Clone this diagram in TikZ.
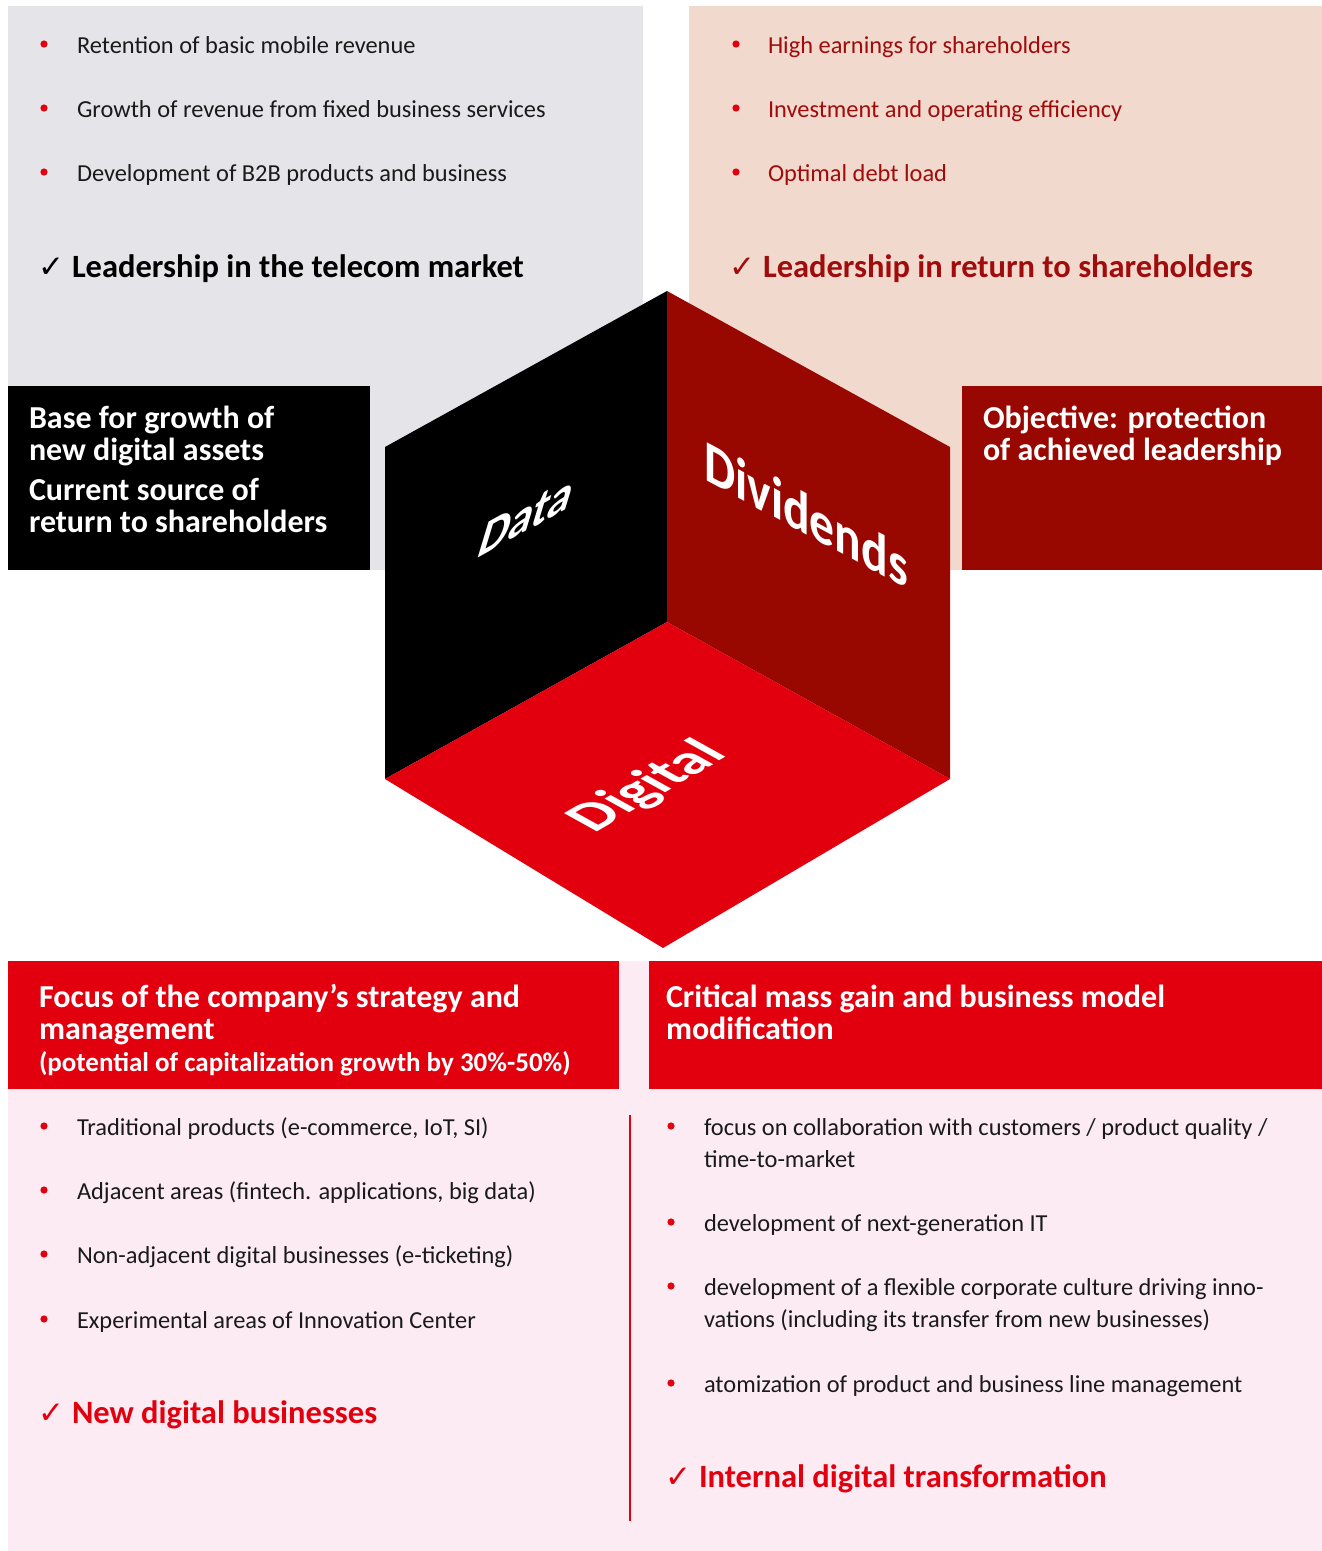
\documentclass[tikz,border=0pt]{standalone}
\usepackage{fontspec}
\setmainfont{Carlito}
\newfontfamily\dejavu{DejaVu Sans}
\definecolor{panelgray}{HTML}{E5E4E9}
\definecolor{panelpeach}{HTML}{F2D9CE}
\definecolor{darkred}{HTML}{990800}
\definecolor{brightred}{HTML}{E2000F}
\definecolor{pinkbg}{HTML}{FCEBF2}
\definecolor{txtred}{HTML}{A00C0C}
\definecolor{txtdark}{HTML}{1A1A1A}
\begin{document}
\begin{tikzpicture}[x=1pt,y=-1pt,
  every node/.style={inner sep=0pt,outer sep=0pt},
  body/.style={anchor=base west,font=\fontsize{24.4}{28}\selectfont,text=txtdark},
  bodyred/.style={body,text=txtred},
  chk/.style={anchor=base west,font=\dejavu\fontsize{31}{31}\selectfont},
  chktext/.style={anchor=base west,font=\bfseries\fontsize{32.5}{36}\selectfont},
  boxtext/.style={anchor=base west,font=\bfseries\fontsize{32}{34}\selectfont,text=white},
  subtext/.style={anchor=base west,font=\bfseries\fontsize{27}{30}\selectfont,text=white},
  cubetext/.style={text=white},
  dot/.style={fill=brightred}]
\useasboundingbox (0,0) rectangle (1322,1551);
\fill[white] (0,0) rectangle (1322,1551);

% ---------- panels ----------
\fill[panelgray] (8,6) rectangle (643,570);
\fill[panelpeach] (689,6) rectangle (1322,570);
\fill[black] (8,386) rectangle (370,570);
\fill[darkred] (962,386) rectangle (1322,570);
\fill[pinkbg] (8,961) rectangle (1322,1551);
\fill[brightred] (8,961) rectangle (619,1089);
\fill[brightred] (649,961) rectangle (1322,1089);

% ---------- cube ----------
\coordinate (ctop) at (667,291);
\coordinate (cul) at (385,447);
\coordinate (cll) at (385,779);
\coordinate (cbot) at (663,948);
\coordinate (clr) at (950,779);
\coordinate (cur) at (950,447);
\coordinate (cmid) at (667,622);
\fill[black] (cul) -- (ctop) -- (cmid) -- (cll) -- cycle;
\fill[darkred] (ctop) -- (cur) -- (clr) -- (cmid) -- cycle;
\fill[brightred] (cmid) -- (clr) -- (cbot) -- (cll) -- cycle;
\node[cubetext,font=\bfseries\fontsize{58}{58}\selectfont,cm={0.82,0.455,0.29,0.957,(0,0)}] (data) at (527,516) {Data};
\node[cubetext,font=\bfseries\fontsize{59}{59}\selectfont,cm={0.84,-0.45,0,1,(0,0)}] (divid) at (806,514) {Dividends};
\node[cubetext,font=\bfseries\fontsize{58}{58}\selectfont,cm={0.866,0.5,-0.875,0.485,(0,0)}] (digit) at (648,787) {Digital};

% ---------- top-left ----------
\node[body] (tl1) at (77,53) {Retention of basic mobile revenue};
\node[body] (tl2) at (77,117) {Growth of revenue from fixed business services};
\node[body] (tl3) at (77,181) {Development of B2B products and business};
\foreach \y in {53,117,181} \fill[dot] (44,\y-9) circle (3.6);
\node[chk,text=black] (tlc) at (38,277) {✓};
\node[chktext,text=black] (tlh) at (72,277) {Leadership in the telecom market};

% ---------- top-right ----------
\node[bodyred] (tr1) at (768,53) {High earnings for shareholders};
\node[bodyred] (tr2) at (768,117) {Investment and operating efficiency};
\node[bodyred] (tr3) at (768,181) {Optimal debt load};
\foreach \y in {53,117,181} \fill[dot] (736,\y-9) circle (3.6);
\node[chk,text=txtred] (trc) at (729,277) {✓};
\node[chktext,text=txtred] (trh) at (763,277) {Leadership in return to shareholders};

% ---------- side boxes ----------
\node[boxtext] (bb1) at (29,428) {Base for growth of};
\node[boxtext] (bb2) at (29,460) {new digital assets};
\node[boxtext] (bb3) at (29,500) {Current source of};
\node[boxtext] (bb4) at (29,532) {return to shareholders};
\node[boxtext] (rb1) at (983,428) {Objective: protection};
\node[boxtext] (rb2) at (983,460) {of achieved leadership};

% ---------- bottom headers ----------
\node[boxtext] (lh1) at (39,1007) {Focus of the company’s strategy and};
\node[boxtext] (lh2) at (39,1039) {management};
\node[subtext] (lh3) at (39,1071) {(potential of capitalization growth by 30\%-50\%)};
\node[boxtext] (rh1) at (666,1007) {Critical mass gain and business model};
\node[boxtext] (rh2) at (666,1039) {modification};

% ---------- bottom-left ----------
\node[body] (bl1) at (77,1135) {Traditional products (e-commerce, IoT, SI)};
\node[body] (bl2) at (77,1199) {Adjacent areas (fintech. applications, big data)};
\node[body] (bl3) at (77,1263) {Non-adjacent digital businesses (e-ticketing)};
\node[body] (bl4) at (77,1328) {Experimental areas of Innovation Center};
\foreach \y in {1135,1199,1263,1328} \fill[dot] (44,\y-9) circle (3.6);
\node[chk,text=brightred] (blc) at (38,1423) {✓};
\node[chktext,text=brightred] (blh) at (72,1423) {New digital businesses};

% ---------- divider ----------
\coordinate (divtop) at (630,1115);
\coordinate (divbot) at (630,1521);
\draw[brightred,line width=2.5pt] (divtop) -- (divbot);

% ---------- bottom-right ----------
\node[body] (br1) at (704,1135) {focus on collaboration with customers / product quality /};
\node[body] (br1b) at (704,1167) {time-to-market};
\node[body] (br2) at (704,1231) {development of next-generation IT};
\node[body] (br3) at (704,1295) {development of a flexible corporate culture driving inno-};
\node[body] (br3b) at (704,1327) {vations (including its transfer from new businesses)};
\node[body] (br4) at (704,1392) {atomization of product and business line management};
\foreach \y in {1135,1231,1295,1392} \fill[dot] (671,\y-9) circle (3.6);
\node[chk,text=brightred] (brc) at (665,1487) {✓};
\node[chktext,text=brightred] (brh) at (699,1487) {Internal digital transformation};
\end{tikzpicture}
\end{document}
